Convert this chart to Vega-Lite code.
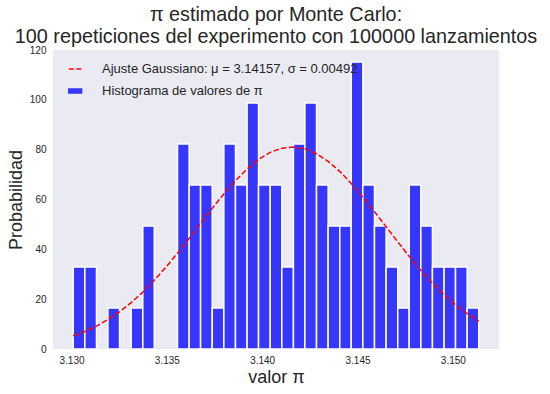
{
  "$schema": "https://vega.github.io/schema/vega-lite/v6.json",
  "width": 446,
  "height": 299,
  "autosize": {"type": "none"},
  "padding": {"left": 53, "top": 50, "right": 51, "bottom": 45},
  "background": "white",
  "title": {
    "text": ["π estimado por Monte Carlo:", "100 repeticiones del experimento con 100000 lanzamientos"],
    "font": "Liberation Sans",
    "fontSize": 19.8,
    "fontWeight": "normal",
    "color": "#262626",
    "anchor": "middle",
    "frame": "group",
    "lineHeight": 22,
    "offset": -2
  },
  "config": {
    "view": {"fill": "#EAEAF2", "stroke": null},
    "axis": {
      "domain": false,
      "ticks": false,
      "grid": false,
      "labelFont": "Liberation Sans",
      "labelFontSize": 10,
      "labelColor": "#262626",
      "titleFont": "Liberation Sans",
      "titleFontSize": 18,
      "titleFontWeight": "normal",
      "titleColor": "#262626"
    },
    "legend": {
      "orient": "top-left",
      "offset": 10,
      "padding": 0,
      "labelFont": "Liberation Sans",
      "labelFontSize": 13,
      "labelColor": "#262626",
      "labelLimit": 400,
      "symbolSize": 256,
      "labelOffset": 21,
      "rowPadding": 6
    }
  },
  "datasets": {
    "hist": [
      {"inicio": 3.13009, "fin": 3.13070, "conteo": 2, "densidad": 32.9},
      {"inicio": 3.13070, "fin": 3.13131, "conteo": 2, "densidad": 32.9},
      {"inicio": 3.13191, "fin": 3.13252, "conteo": 1, "densidad": 16.45},
      {"inicio": 3.13313, "fin": 3.13374, "conteo": 1, "densidad": 16.45},
      {"inicio": 3.13374, "fin": 3.13434, "conteo": 3, "densidad": 49.35},
      {"inicio": 3.13556, "fin": 3.13617, "conteo": 5, "densidad": 82.25},
      {"inicio": 3.13617, "fin": 3.13677, "conteo": 4, "densidad": 65.8},
      {"inicio": 3.13677, "fin": 3.13738, "conteo": 4, "densidad": 65.8},
      {"inicio": 3.13738, "fin": 3.13799, "conteo": 1, "densidad": 16.45},
      {"inicio": 3.13799, "fin": 3.13860, "conteo": 5, "densidad": 82.25},
      {"inicio": 3.13860, "fin": 3.13921, "conteo": 4, "densidad": 65.8},
      {"inicio": 3.13921, "fin": 3.13981, "conteo": 6, "densidad": 98.7},
      {"inicio": 3.13981, "fin": 3.14042, "conteo": 4, "densidad": 65.8},
      {"inicio": 3.14042, "fin": 3.14103, "conteo": 4, "densidad": 65.8},
      {"inicio": 3.14103, "fin": 3.14164, "conteo": 2, "densidad": 32.9},
      {"inicio": 3.14164, "fin": 3.14224, "conteo": 5, "densidad": 82.25},
      {"inicio": 3.14224, "fin": 3.14285, "conteo": 6, "densidad": 98.7},
      {"inicio": 3.14285, "fin": 3.14346, "conteo": 4, "densidad": 65.8},
      {"inicio": 3.14346, "fin": 3.14407, "conteo": 3, "densidad": 49.35},
      {"inicio": 3.14407, "fin": 3.14467, "conteo": 3, "densidad": 49.35},
      {"inicio": 3.14467, "fin": 3.14528, "conteo": 7, "densidad": 115.15},
      {"inicio": 3.14528, "fin": 3.14589, "conteo": 4, "densidad": 65.8},
      {"inicio": 3.14589, "fin": 3.14650, "conteo": 3, "densidad": 49.35},
      {"inicio": 3.14650, "fin": 3.14711, "conteo": 2, "densidad": 32.9},
      {"inicio": 3.14711, "fin": 3.14771, "conteo": 1, "densidad": 16.45},
      {"inicio": 3.14771, "fin": 3.14832, "conteo": 4, "densidad": 65.8},
      {"inicio": 3.14832, "fin": 3.14893, "conteo": 3, "densidad": 49.35},
      {"inicio": 3.14893, "fin": 3.14954, "conteo": 2, "densidad": 32.9},
      {"inicio": 3.14954, "fin": 3.15014, "conteo": 2, "densidad": 32.9},
      {"inicio": 3.15014, "fin": 3.15075, "conteo": 2, "densidad": 32.9},
      {"inicio": 3.15075, "fin": 3.15136, "conteo": 1, "densidad": 16.45}
    ],
    "ajuste": [
      {"x": 3.13009, "y": 5.33},
      {"x": 3.13070, "y": 7.05},
      {"x": 3.13131, "y": 9.20},
      {"x": 3.13191, "y": 11.81},
      {"x": 3.13252, "y": 14.94},
      {"x": 3.13313, "y": 18.61},
      {"x": 3.13374, "y": 22.83},
      {"x": 3.13434, "y": 27.57},
      {"x": 3.13495, "y": 32.81},
      {"x": 3.13556, "y": 38.45},
      {"x": 3.13617, "y": 44.37},
      {"x": 3.13677, "y": 50.43},
      {"x": 3.13738, "y": 56.45},
      {"x": 3.13799, "y": 62.23},
      {"x": 3.13860, "y": 67.56},
      {"x": 3.13921, "y": 72.24},
      {"x": 3.13981, "y": 76.08},
      {"x": 3.14042, "y": 78.90},
      {"x": 3.14103, "y": 80.60},
      {"x": 3.14164, "y": 81.07},
      {"x": 3.14224, "y": 80.32},
      {"x": 3.14285, "y": 78.37},
      {"x": 3.14346, "y": 75.31},
      {"x": 3.14407, "y": 71.27},
      {"x": 3.14467, "y": 66.43},
      {"x": 3.14528, "y": 60.98},
      {"x": 3.14589, "y": 55.13},
      {"x": 3.14650, "y": 49.09},
      {"x": 3.14711, "y": 43.04},
      {"x": 3.14771, "y": 37.17},
      {"x": 3.14832, "y": 31.62},
      {"x": 3.14893, "y": 26.48},
      {"x": 3.14954, "y": 21.85},
      {"x": 3.15014, "y": 17.75},
      {"x": 3.15075, "y": 14.21},
      {"x": 3.15136, "y": 11.19}
    ]
  },
  "layer": [
    {
      "data": {"name": "hist"},
      "mark": {"type": "bar", "stroke": "white", "strokeWidth": 1.5, "opacity": 1},
      "encoding": {
        "x": {
          "field": "inicio", "type": "quantitative",
          "scale": {"domain": [3.12903, 3.15242], "nice": false, "zero": false},
          "axis": {"title": "valor π", "values": [3.13, 3.135, 3.14, 3.145, 3.15], "format": ".3f", "labelPadding": 6, "titlePadding": 3}
        },
        "x2": {"field": "fin"},
        "y": {
          "field": "densidad", "type": "quantitative",
          "scale": {"domain": [0, 120], "nice": false},
          "axis": {"title": "Probabilidad", "values": [0, 20, 40, 60, 80, 100, 120], "labelPadding": 7, "titlePadding": 4}
        },
        "y2": {"datum": 0},
        "color": {
          "datum": "Histograma de valores de π",
          "scale": {
            "domain": ["Ajuste Gaussiano: μ = 3.14157,  σ = 0.00492", "Histograma de valores de π"],
            "range": ["#ff0000", "#3636fc"]
          },
          "legend": {
            "title": null,
            "encode": {
              "symbols": {
                "update": {
                  "shape": {"signal": "datum.value === 'Histograma de valores de π' ? 'M-0.4,-0.26H1.2V0.26H-0.4Z' : 'M-0.4,0H1.2'"},
                  "fill": {"signal": "datum.value === 'Histograma de valores de π' ? '#3636fc' : 'transparent'"},
                  "stroke": {"signal": "datum.value === 'Histograma de valores de π' ? 'transparent' : '#ff0000'"},
                  "strokeWidth": {"value": 1.5},
                  "strokeDash": {"signal": "datum.value === 'Histograma de valores de π' ? [1,0] : [5,2.5]"},
                  "opacity": {"value": 1}
                }
              }
            }
          }
        }
      }
    },
    {
      "data": {"name": "ajuste"},
      "mark": {"type": "line", "strokeWidth": 1.5, "strokeDash": [5.5, 2.4]},
      "encoding": {
        "x": {"field": "x", "type": "quantitative"},
        "y": {"field": "y", "type": "quantitative"},
        "color": {
          "datum": "Ajuste Gaussiano: μ = 3.14157,  σ = 0.00492",
          "legend": {
            "title": null,
            "encode": {
              "symbols": {
                "update": {
                  "shape": {"signal": "datum.value === 'Histograma de valores de π' ? 'M-0.4,-0.26H1.2V0.26H-0.4Z' : 'M-0.4,0H1.2'"},
                  "fill": {"signal": "datum.value === 'Histograma de valores de π' ? '#3636fc' : 'transparent'"},
                  "stroke": {"signal": "datum.value === 'Histograma de valores de π' ? 'transparent' : '#ff0000'"},
                  "strokeWidth": {"value": 1.5},
                  "strokeDash": {"signal": "datum.value === 'Histograma de valores de π' ? [1,0] : [5,2.5]"},
                  "opacity": {"value": 1}
                }
              }
            }
          }
        }
      }
    }
  ]
}
